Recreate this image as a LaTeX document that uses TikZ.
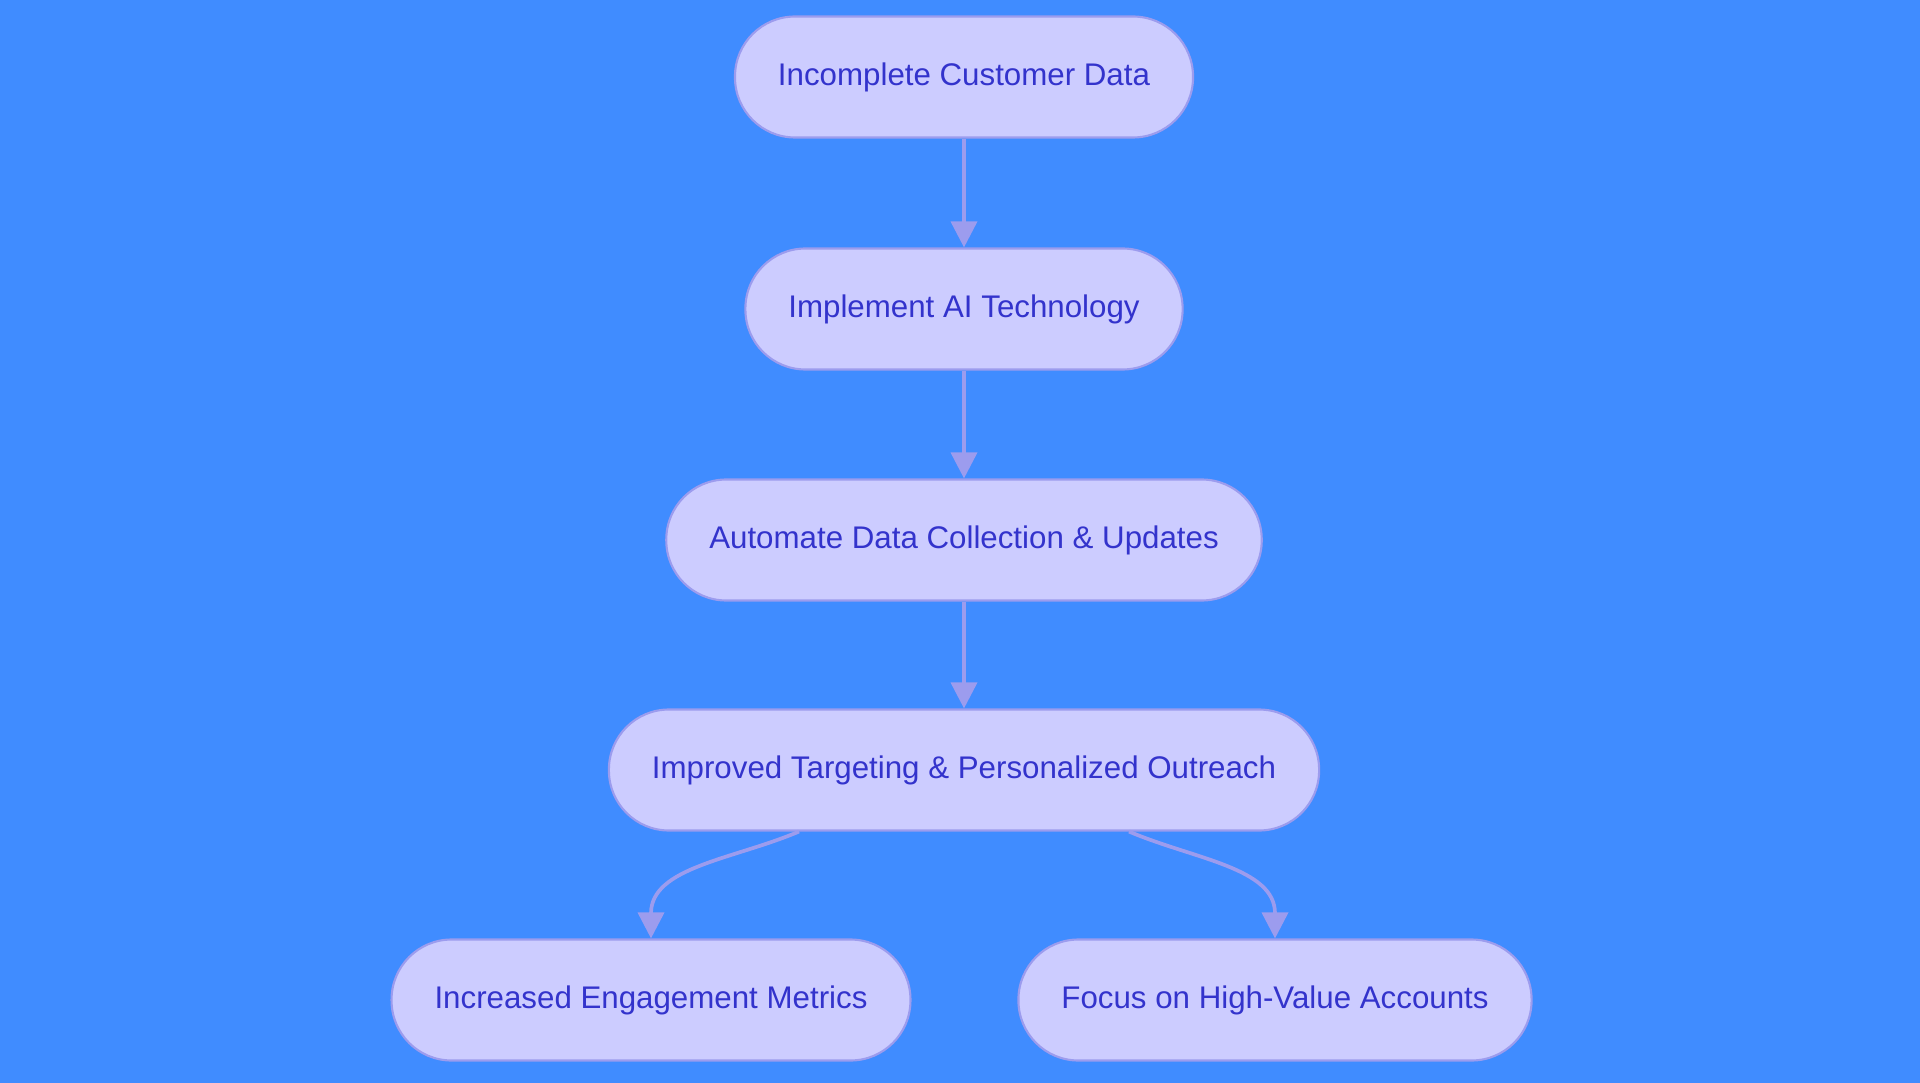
\documentclass[tikz,border=0pt]{standalone}
\usepackage{fontspec}
\setmainfont{Liberation Sans}
\usepackage{tikz}
\usetikzlibrary{calc,positioning,arrows.meta}
\definecolor{flowBg}{HTML}{408CFF}
\definecolor{flowFill}{HTML}{CCCCFF}
\definecolor{flowLine}{HTML}{9C9CEE}
\definecolor{flowText}{HTML}{3333CC}

\begin{document}
\begin{tikzpicture}[
  st/.style={draw=flowLine,fill=flowFill,line width=1.2pt,rounded corners=1.2cm,
             minimum height=2.42cm,inner xsep=0.86cm,
             font=\fontsize{17.8}{22}\selectfont,text=flowText,align=center},
  a/.style={-{Triangle[length=0.52cm,width=0.52cm]},flowLine,line width=2.1pt}]
  \fill[flowBg] (0,0) rectangle (38.4,-21.66);
  \useasboundingbox (0,0) rectangle (38.4,-21.66);
  \node[st] (inc) at (19.28,-1.54)  {Incomplete Customer Data};
  \node[st] (ai)  at (19.28,-6.18)  {Implement AI Technology};
  \node[st] (aut) at (19.28,-10.80) {Automate Data Collection \& Updates};
  \node[st] (imp) at (19.28,-15.40) {Improved Targeting \& Personalized Outreach};
  \node[st] (eng) at (13.02,-20.00) {Increased Engagement Metrics};
  \node[st] (foc) at (25.50,-20.00) {Focus on High-Value Accounts};
  \draw[a] (inc)--(ai);
  \draw[a] (ai)--(aut);
  \draw[a] (aut)--(imp);
  \draw[a] ([xshift=-3.3cm]imp.south) to[out=-157,in=90] (eng.north);
  \draw[a] ([xshift=3.3cm]imp.south) to[out=-23,in=90] (foc.north);
\end{tikzpicture}
\end{document}
